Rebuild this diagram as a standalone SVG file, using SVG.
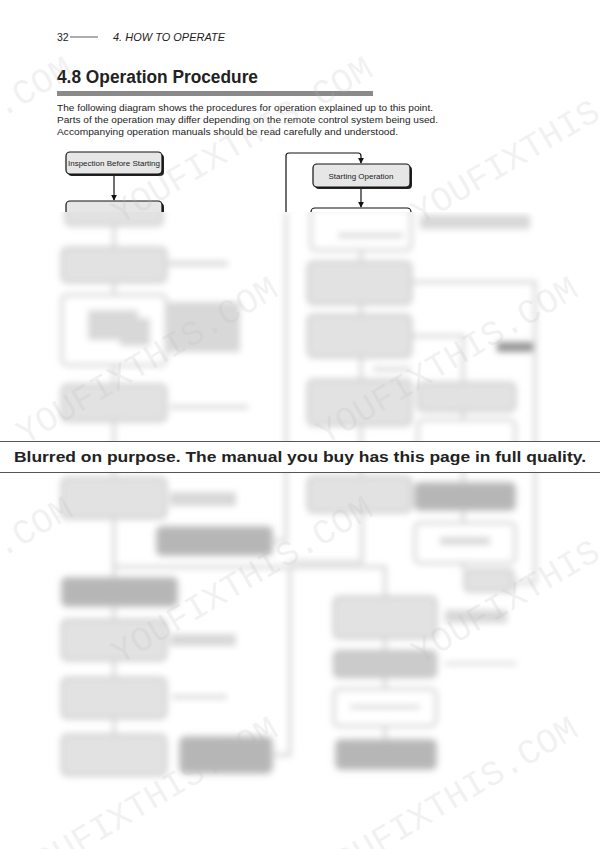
<svg xmlns="http://www.w3.org/2000/svg" width="600" height="849" viewBox="0 0 600 849">
<defs>
<style>
.hd{font-family:"Liberation Sans",Arial,sans-serif;fill:#222}
.nt{font-family:"Liberation Sans",Arial,sans-serif;font-size:8px;fill:#222;text-anchor:middle}
.box{fill:#e6e6e6;stroke:#111;stroke-width:1.2}
.wbox{fill:#fff;stroke:#111;stroke-width:1.2}
.sh{fill:#222}
.cn{fill:none;stroke:#111;stroke-width:1.2}
.bl{fill:#e2e2e2;stroke:#d0d0d0;stroke-width:3}
.bw{fill:#fff;stroke:#d2d2d2;stroke-width:3}
.bd{fill:#b6b6b6;stroke:#cacaca;stroke-width:3}
.bc{fill:none;stroke:#d2d2d2;stroke-width:3}
.sm{fill:#d8d8d8}
.wm{font-family:"Liberation Mono","DejaVu Sans Mono",monospace;font-size:35px;fill:#b8b8b8;fill-opacity:0.2}
</style>
<marker id="ah" viewBox="0 0 8 8" refX="7" refY="4" markerWidth="6" markerHeight="6" orient="auto" markerUnits="userSpaceOnUse">
<path d="M0,0 L8,4 L0,8 z" fill="#111"/>
</marker>
<filter id="blur" x="-10%" y="-10%" width="120%" height="120%">
<feGaussianBlur stdDeviation="3"/>
</filter>
<clipPath id="topclip"><rect x="0" y="0" width="600" height="212"/></clipPath>
<clipPath id="botclip"><rect x="0" y="212" width="600" height="637"/></clipPath>
</defs>
<rect width="600" height="849" fill="#fff"/>

<g id="header">
<text class="hd" x="57" y="41" font-size="10.5">32</text>
<line x1="70" y1="37" x2="98" y2="37" stroke="#333" stroke-width="0.8"/>
<text class="hd" x="113" y="41" font-size="11" font-style="italic" textLength="112" lengthAdjust="spacingAndGlyphs">4. HOW TO OPERATE</text>
<text class="hd" x="57" y="83" font-size="17.5" font-weight="bold" textLength="201" lengthAdjust="spacingAndGlyphs" fill="#111">4.8  Operation Procedure</text>
<rect x="57" y="91" width="316" height="5" fill="#8a8a8a"/>
<text class="hd" x="57" y="110.5" font-size="9.5" textLength="376" lengthAdjust="spacingAndGlyphs">The following diagram shows the procedures for operation explained up to this point.</text>
<text class="hd" x="57" y="122.8" font-size="9.5" textLength="381" lengthAdjust="spacingAndGlyphs">Parts of the operation may differ depending on the remote control system being used.</text>
<text class="hd" x="57" y="135" font-size="9.5" textLength="341" lengthAdjust="spacingAndGlyphs">Accompanying operation manuals should be read carefully and understood.</text>
</g>

<g id="sharp" clip-path="url(#topclip)">
<g id="connectors">
<line class="cn" x1="114" y1="175" x2="114" y2="200" marker-end="url(#ah)"/>
<path class="cn" d="M286,214 V156 Q286,153 289,153 H358 Q361,153 361,156 V163" marker-end="url(#ah)"/>
<line class="cn" x1="361" y1="188" x2="361" y2="207" marker-end="url(#ah)"/>
</g>
<g id="n-inspection">
<rect class="sh" x="68" y="154" width="96" height="22" rx="4"/>
<rect class="box" x="66" y="152" width="96" height="22" rx="4"/>
<text class="nt" x="114" y="166" textLength="92" lengthAdjust="spacingAndGlyphs">Inspection Before Starting</text>
</g>
<g id="n-engine">
<rect class="sh" x="68" y="203" width="96" height="24" rx="4"/>
<rect class="box" x="66" y="201" width="96" height="24" rx="4"/>
<text class="nt" x="114" y="217" fill-opacity="0.6">Starting the Engine</text>
</g>
<g id="n-starting-operation">
<rect class="sh" x="315" y="166" width="97" height="23" rx="4"/>
<rect class="box" x="313" y="164" width="97" height="23" rx="4"/>
<text class="nt" x="361" y="179">Starting Operation</text>
</g>
<g id="n-right1">
<rect class="wbox" x="311" y="208" width="100" height="42" rx="4"/>
</g>
</g>

<g id="blurred" clip-path="url(#botclip)">
<g filter="url(#blur)">
<g id="blur-connectors">
<path class="bc" d="M114,225 V248 M114,282 V295 M114,365 V385 M114,421 V478 M114,518 V567 H290 M114,567 V578 M114,606 V620 M114,660 V678 M114,718 V735"/>
<path class="bc" d="M286,212 V541 H272"/>
<path class="bc" d="M290,567 V755 H272 M290,567 H385 V596 M362,512 V562 H290"/>
<path class="bc" d="M361,250 V262 M361,304 V315 M361,357 V380 M361,425 V477"/>
<path class="bc" d="M411,282 H535 V583 H513 M411,336 H463 V383 M463,411 V420 M463,455 V483 M463,510 V523 M463,563 V570"/>
<path class="bc" d="M385,638 V650 M385,677 V690 M385,727 V740"/>
</g>
<g id="b-l2"><rect class="bl" x="66" y="201" width="96" height="24" rx="4"/></g>
<g id="b-l3"><rect class="bl" x="62" y="248" width="104" height="34" rx="5"/><rect class="sm" x="168" y="261" width="60" height="5"/></g>
<g id="b-l4"><rect class="bw" x="62" y="295" width="104" height="70" rx="5"/><rect class="sm" x="88" y="310" width="50" height="30"/><rect class="sm" x="120" y="318" width="30" height="28"/><rect class="sm" x="168" y="302" width="72" height="50"/></g>
<g id="b-l5"><rect class="bl" x="62" y="385" width="104" height="36" rx="5"/><rect class="sm" x="170" y="405" width="78" height="4"/></g>
<g id="b-l6"><rect class="bl" x="62" y="478" width="104" height="40" rx="5"/><rect class="sm" x="170" y="492" width="66" height="14"/></g>
<g id="b-d1"><rect class="bd" x="157" y="527" width="115" height="28" rx="5"/></g>
<g id="b-d2"><rect class="bd" x="62" y="578" width="115" height="28" rx="5"/></g>
<g id="b-l7"><rect class="bl" x="62" y="620" width="104" height="40" rx="5"/><rect class="sm" x="170" y="634" width="66" height="12"/></g>
<g id="b-l8"><rect class="bl" x="62" y="678" width="104" height="40" rx="5"/><rect class="sm" x="172" y="695" width="55" height="4"/></g>
<g id="b-l9"><rect class="bl" x="62" y="735" width="104" height="40" rx="5"/></g>
<g id="b-d3"><rect class="bd" x="180" y="737" width="92" height="36" rx="6"/></g>
<g id="b-r1"><rect class="bw" x="311" y="208" width="100" height="42" rx="4"/><rect class="sm" x="338" y="233" width="65" height="5"/><rect class="sm" x="420" y="215" width="110" height="14"/></g>
<g id="b-r2"><rect class="bl" x="308" y="262" width="103" height="42" rx="5"/></g>
<g id="b-r3"><rect class="bl" x="308" y="315" width="103" height="42" rx="5"/><rect class="sm" x="373" y="367" width="38" height="4"/></g>
<g id="b-dk"><rect x="497" y="342" width="36" height="10" fill="#999"/></g>
<g id="b-r4"><rect class="bl" x="308" y="380" width="103" height="45" rx="5"/></g>
<g id="b-r4b"><rect class="bl" x="418" y="383" width="97" height="28" rx="5"/></g>
<g id="b-r4c"><rect class="bw" x="418" y="420" width="97" height="35" rx="5"/></g>
<g id="b-r5"><rect class="bl" x="308" y="477" width="103" height="35" rx="5"/></g>
<g id="b-r5b"><rect class="bd" x="415" y="483" width="100" height="27" rx="5"/></g>
<g id="b-r5c"><rect class="bw" x="415" y="523" width="100" height="40" rx="5"/><rect class="sm" x="440" y="537" width="50" height="8"/></g>
<g id="b-r5d"><rect class="bl" x="465" y="570" width="48" height="21" rx="4"/></g>
<g id="b-r6"><rect class="bl" x="334" y="597" width="102" height="41" rx="5"/><rect class="sm" x="445" y="610" width="62" height="13"/></g>
<g id="b-r7"><rect x="334" y="651" width="102" height="26" rx="5" fill="#cbcbcb" stroke="#cbcbcb" stroke-width="3"/><rect class="sm" x="445" y="662" width="72" height="3"/></g>
<g id="b-r8"><rect class="bw" x="334" y="689" width="102" height="37" rx="5"/><rect class="sm" x="350" y="705" width="70" height="4"/></g>
<g id="b-r9"><rect class="bd" x="336" y="740" width="100" height="29" rx="5"/></g>
</g>
</g>

<g id="watermarks">
<text class="wm" transform="translate(-180,225) rotate(-30.5)" textLength="296">YOUFIXTHIS.COM</text>
<text class="wm" transform="translate(120,225) rotate(-30.5)" textLength="296">YOUFIXTHIS.COM</text>
<text class="wm" transform="translate(420,225) rotate(-30.5)" textLength="296">YOUFIXTHIS.COM</text>
<text class="wm" transform="translate(25,445) rotate(-30.5)" textLength="296">YOUFIXTHIS.COM</text>
<text class="wm" transform="translate(325,445) rotate(-30.5)" textLength="296">YOUFIXTHIS.COM</text>
<text class="wm" transform="translate(-180,665) rotate(-30.5)" textLength="296">YOUFIXTHIS.COM</text>
<text class="wm" transform="translate(120,665) rotate(-30.5)" textLength="296">YOUFIXTHIS.COM</text>
<text class="wm" transform="translate(420,665) rotate(-30.5)" textLength="296">YOUFIXTHIS.COM</text>
<text class="wm" transform="translate(25,885) rotate(-30.5)" textLength="296">YOUFIXTHIS.COM</text>
<text class="wm" transform="translate(325,885) rotate(-30.5)" textLength="296">YOUFIXTHIS.COM</text>
</g>

<g id="banner">
<rect x="0" y="441" width="600" height="31" fill="#fff"/>
<line x1="0" y1="441.5" x2="600" y2="441.5" stroke="#555" stroke-width="1"/>
<line x1="0" y1="472.5" x2="600" y2="472.5" stroke="#555" stroke-width="1"/>
<text x="300" y="462" text-anchor="middle" font-family="'Liberation Sans',Arial,sans-serif" font-weight="bold" font-size="15.5" fill="#222" textLength="572" lengthAdjust="spacingAndGlyphs">Blurred on purpose. The manual you buy has this page in full quality.</text>
</g>
</svg>
